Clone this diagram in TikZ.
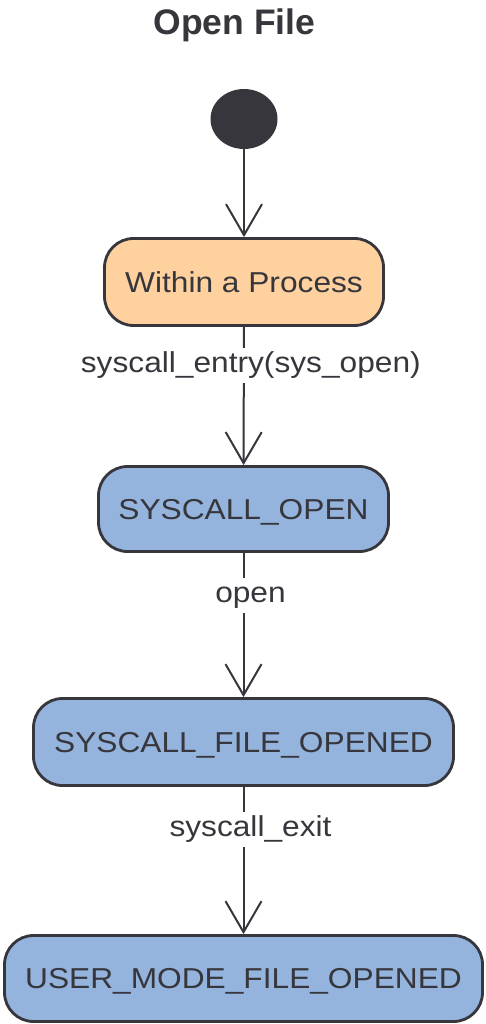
\documentclass[tikz,border=0pt]{standalone}
\usepackage{fontspec}
\setmainfont{Liberation Sans}[FakeStretch=1.1]
\newfontfamily\titlefont{Liberation Sans}
\usetikzlibrary{arrows.meta,shapes.geometric}
\definecolor{ink}{HTML}{36363C}
\definecolor{stateblue}{HTML}{94B3DD}
\definecolor{statepeach}{HTML}{FED19F}
\tikzset{
  statebox/.style={draw=ink, line width=2.8pt, rounded corners=29pt,
    text=ink, font=\fontsize{28.8}{34}\selectfont,
    text height=20pt, text depth=0pt, inner sep=0pt},
  trans/.style={draw=ink, line width=2pt,
    -{Straight Barb[length=31pt,width=36pt,line width=2pt]}},
  translabel/.style={fill=white, text=ink, font=\fontsize{28.8}{34}\selectfont,
    text height=21pt, text depth=6pt, inner xsep=3pt, inner ysep=4pt, xshift=7pt},
}
\begin{document}
\begin{tikzpicture}[x=1pt, y=-1pt]
  \useasboundingbox (0,0) rectangle (485,1024);
  % title
  \node[anchor=base, text=ink, font=\titlefont\bfseries\fontsize{35.5}{40}\selectfont]
    (title) at (234.5,35) {Open File};
  % initial pseudo-state
  \node[ellipse, fill=ink, minimum width=67pt, minimum height=60pt, inner sep=0pt]
    (init) at (244,119) {};
  % states
  \node[statebox, fill=statepeach, minimum width=279pt, minimum height=87pt]
    (proc) at (244,282) {Within a Process};
  \node[statebox, fill=stateblue, minimum width=290pt, minimum height=85pt]
    (sysopen) at (243.5,509) {SYSCALL\_OPEN};
  \node[statebox, fill=stateblue, minimum width=420pt, minimum height=87pt]
    (opened) at (243.5,742) {SYSCALL\_FILE\_OPENED};
  \node[statebox, fill=stateblue, minimum width=478pt, minimum height=86pt]
    (usermode) at (243.5,978.5) {USER\_MODE\_FILE\_OPENED};
  % transitions
  \draw[trans] (init) -- (proc);
  \draw[trans] (proc) -- node[translabel, pos=0.279] (l1) {syscall\_entry(sys\_open)} (sysopen);
  \draw[trans] (sysopen) -- node[translabel, pos=0.295] (l2) {open} (opened);
  \draw[trans] (opened) -- node[translabel, pos=0.289] (l3) {syscall\_exit} (usermode);
\end{tikzpicture}
\end{document}
